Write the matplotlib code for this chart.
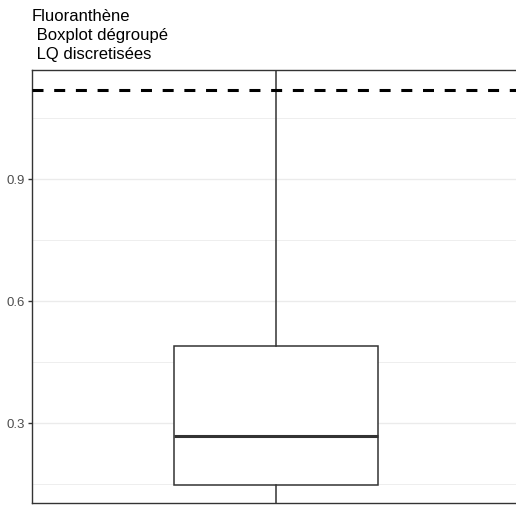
# boxplot of Fluoranthène, ggplot theme_bw look
import numpy as np
import matplotlib.pyplot as plt

plt.rcParams['font.family'] = ['Liberation Sans', 'DejaVu Sans']

# data
title_lines = ["Fluoranthène", " Boxplot dégroupé", " LQ discretisées"]
box_q1 = [0.149]
box_median = [0.269]
box_q3 = [0.489]
whisker_low = [0.06]
whisker_high = [1.25]
limit_value = 1.119
y_major = [0.3, 0.6, 0.9]
y_minor = [0.15, 0.45, 0.75, 1.05]

fig = plt.figure(figsize=(5.16, 5.05), dpi=100)
ax = fig.add_axes([32 / 516, 1.7 / 505, 488 / 516, 433.3 / 505])

stats = [{'q1': box_q1[i], 'med': box_median[i], 'q3': box_q3[i],
          'whislo': whisker_low[i], 'whishi': whisker_high[i], 'fliers': []}
         for i in range(len(box_q1))]

dark = '#333333'
ax.bxp(stats, positions=[1], widths=0.5, showcaps=False, patch_artist=True,
       boxprops=dict(facecolor='white', edgecolor=dark, linewidth=1.1),
       medianprops=dict(color=dark, linewidth=2.2, solid_capstyle='butt'),
       whiskerprops=dict(color=dark, linewidth=1.1), zorder=3)

ax.axhline(limit_value, color='black', linewidth=2.2, linestyle=(0, (3.6, 3.5)), zorder=4)

ax.set_xlim(0.4, 1.6)
ax.set_ylim(0.103, 1.168)
ax.set_yticks(y_major)
ax.set_yticks(y_minor, minor=True)
ax.set_yticklabels([f"{v:.1f}" for v in y_major])
ax.set_xticks([])
ax.grid(axis='y', which='major', color='#EBEBEB', linewidth=1.0, zorder=0)
ax.grid(axis='y', which='minor', color='#EBEBEB', linewidth=0.6, zorder=0)
ax.set_axisbelow(True)
ax.tick_params(axis='y', which='major', length=3, width=1, color=dark,
               labelsize=9.5, labelcolor='#4D4D4D', pad=2)
ax.tick_params(axis='y', which='minor', length=0)
for s in ax.spines.values():
    s.set_color(dark)
    s.set_linewidth(1.0)

fig.text(32 / 516, 1 - 9 / 505, "\n".join(title_lines), ha='left', va='top',
         fontsize=12, color='black', linespacing=1.32)

plt.savefig("out.png", dpi=100)
